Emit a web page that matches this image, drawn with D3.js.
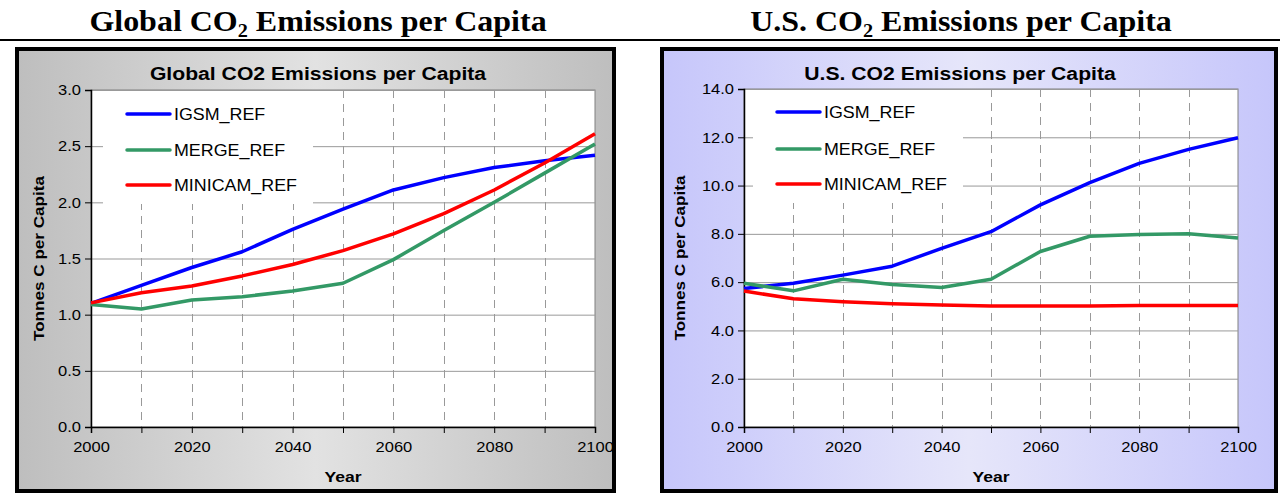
<!DOCTYPE html>
<html><head><meta charset="utf-8">
<script src="https://cdn.jsdelivr.net/npm/d3@7"></script>
<style>body{margin:0;background:#fff}svg{display:block}</style>
</head><body>
<svg id="c" width="1280" height="493"></svg>
<script>
const years = [2000,2010,2020,2030,2040,2050,2060,2070,2080,2090,2100];
const seriesNames = ["IGSM_REF","MERGE_REF","MINICAM_REF"];
const seriesColors = ["#0000ff","#339966","#ff0000"];
const globalIGSM    = [1.10,1.26,1.42,1.56,1.76,1.94,2.11,2.22,2.31,2.37,2.42];
const globalMERGE   = [1.09,1.05,1.13,1.16,1.21,1.28,1.49,1.75,2.00,2.26,2.52];
const globalMINICAM = [1.105,1.195,1.255,1.345,1.447,1.57,1.72,1.90,2.11,2.35,2.61];
const usIGSM    = [5.74,5.95,6.29,6.66,7.40,8.09,9.20,10.12,10.92,11.50,11.98];
const usMERGE   = [5.95,5.64,6.12,5.90,5.78,6.12,7.27,7.90,7.97,8.00,7.83];
const usMINICAM = [5.63,5.31,5.19,5.11,5.05,5.01,5.01,5.01,5.03,5.03,5.03];
const globalYTicks = [0,0.5,1.0,1.5,2.0,2.5,3.0];
const usYTicks = [0,2,4,6,8,10,12,14];
const xTickLabels = [2000,2020,2040,2060,2080,2100];
const xMinorTicks = [2000,2010,2020,2030,2040,2050,2060,2070,2080,2090,2100];

const SANS = "'Liberation Sans', Arial, sans-serif";
const svg = d3.select("#c");
const defs = svg.append("defs");
function grad(id, edge, mid){
  const g = defs.append("linearGradient").attr("id",id).attr("x1","0").attr("x2","1").attr("y1","0").attr("y2","0");
  g.append("stop").attr("offset","0").attr("stop-color",edge);
  g.append("stop").attr("offset","0.5").attr("stop-color",mid);
  g.append("stop").attr("offset","1").attr("stop-color",edge);
}
grad("gGray","#bebebe","#e2e2e2");
grad("gBlue","#c6c6fb","#e6e6fa");

function widen(sel, f){
  sel.each(function(){
    const l = this.getComputedTextLength();
    d3.select(this).attr("textLength", l*f).attr("lengthAdjust","spacingAndGlyphs");
  });
}

// top rule
svg.append("rect").attr("x",0).attr("y",39).attr("width",1280).attr("height",2).attr("fill","#000");

function mainTitle(cx, prefix){
  const t = svg.append("text").attr("transform",`translate(${cx},31) scale(1.066,1)`).attr("text-anchor","middle")
    .attr("font-family","'Liberation Serif', 'Times New Roman', serif").attr("font-weight","bold").attr("font-size",30);
  t.append("tspan").text(prefix + "CO");
  t.append("tspan").attr("font-size",19).attr("dy",6).text("2");
  t.append("tspan").attr("dy",-6).text(" Emissions per Capita");
}
mainTitle(318,"Global ");
mainTitle(961,"U.S. ");

function chart(cfg){
  const g = svg.append("g");
  g.append("rect").attr("x",cfg.fx).attr("y",cfg.fy).attr("width",cfg.fw).attr("height",cfg.fh)
    .attr("fill",`url(#${cfg.grad})`).attr("stroke","#000").attr("stroke-width",4);
  const x = d3.scaleLinear().domain([2000,2100]).range([cfg.x0,cfg.x1]);
  const y = d3.scaleLinear().domain([0,cfg.ymax]).range([cfg.y1,cfg.y0]);
  g.append("rect").attr("x",cfg.x0).attr("y",cfg.y0).attr("width",cfg.x1-cfg.x0).attr("height",cfg.y1-cfg.y0)
    .attr("fill","#fff").attr("stroke","#808080").attr("stroke-width",1);
  // gridlines
  g.selectAll(".hg").data(cfg.yticks.filter(v=>v>0)).join("line")
    .attr("x1",cfg.x0).attr("x2",cfg.x1).attr("y1",d=>y(d)+0.5).attr("y2",d=>y(d)+0.5)
    .attr("stroke","#999").attr("stroke-width",1);
  g.selectAll(".vg").data(xMinorTicks.slice(1,-1)).join("line")
    .attr("x1",d=>Math.round(x(d))+0.5).attr("x2",d=>Math.round(x(d))+0.5).attr("y1",cfg.y0).attr("y2",cfg.y1)
    .attr("stroke","#999").attr("stroke-width",1).attr("stroke-dasharray","8,6");
  // legend box
  g.append("rect").attr("x",cfg.lx).attr("y",cfg.y0+1).attr("width",210).attr("height",cfg.lh).attr("fill","#fff");
  // axes
  const ya = d3.axisLeft(y).tickValues(cfg.yticks).tickSize(6).tickFormat(d3.format(".1f"));
  const yg = g.append("g").attr("transform",`translate(${cfg.x0},0)`).call(ya);
  const xa = d3.axisBottom(x).tickValues(xMinorTicks).tickSize(6)
    .tickFormat(d=> xTickLabels.includes(d) ? String(d) : "");
  const xg = g.append("g").attr("transform",`translate(0,${cfg.y1})`).call(xa);
  [yg,xg].forEach(a=>{
    a.select(".domain").attr("stroke","#000").attr("stroke-width",1.5);
    a.selectAll(".tick line").attr("stroke","#000");
    a.selectAll("text").attr("font-family",SANS).attr("font-size",15).attr("fill","#000");
  });
  yg.selectAll("text").attr("x",-10);
  xg.selectAll("text").attr("y",14);
  widen(yg.selectAll("text"),1.1);
  widen(xg.selectAll("text").filter(function(){return this.textContent!=="";}),1.1);
  // lines
  const line = d3.line().x((d,i)=>x(years[i])).y(d=>y(d));
  cfg.series.forEach((s,k)=>{
    g.append("path").attr("d",line(s)).attr("fill","none").attr("stroke",seriesColors[k])
      .attr("stroke-width",3.5).attr("stroke-linejoin","round");
  });
  // legend
  seriesNames.forEach((n,k)=>{
    const ly = cfg.ly[k];
    g.append("line").attr("x1",cfg.lx+24).attr("x2",cfg.lx+67).attr("y1",ly).attr("y2",ly)
      .attr("stroke",seriesColors[k]).attr("stroke-width",3.5).attr("stroke-linecap","round");
    const t = g.append("text").attr("x",cfg.lx+71).attr("y",ly+6).text(n)
      .attr("font-family",SANS).attr("font-size",17);
    widen(t,1.05);
  });
  // titles
  const tt = g.append("text").attr("x",cfg.tcx).attr("y",80).attr("text-anchor","middle").text(cfg.title)
    .attr("font-family",SANS).attr("font-weight","bold").attr("font-size",18);
  widen(tt,1.175);
  const yr = g.append("text").attr("x",(cfg.x0+cfg.x1)/2).attr("y",482).attr("text-anchor","middle").text("Year")
    .attr("font-family",SANS).attr("font-weight","bold").attr("font-size",15);
  widen(yr,1.17);
  const yt = g.append("text").attr("transform",`translate(${cfg.ytx},${(cfg.y0+cfg.y1)/2}) rotate(-90)`)
    .attr("text-anchor","middle").text("Tonnes C per Capita")
    .attr("font-family",SANS).attr("font-weight","bold").attr("font-size",15);
  widen(yt,1.14);
}

chart({fx:17,fy:49,fw:597,fh:442,grad:"gGray",x0:91,x1:595,y0:90,y1:427,ymax:3,yticks:globalYTicks,
  series:[globalIGSM,globalMERGE,globalMINICAM],lx:103,lh:113,ly:[114,150,185],tcx:318,ytx:44,
  title:"Global CO2 Emissions per Capita"});
chart({fx:662,fy:49,fw:614,fh:442,grad:"gBlue",x0:744,x1:1238,y0:89,y1:427,ymax:14,yticks:usYTicks,
  series:[usIGSM,usMERGE,usMINICAM],lx:753,lh:113,ly:[112,149,184],tcx:960,ytx:685,
  title:"U.S. CO2 Emissions per Capita"});
</script>
</body></html>
